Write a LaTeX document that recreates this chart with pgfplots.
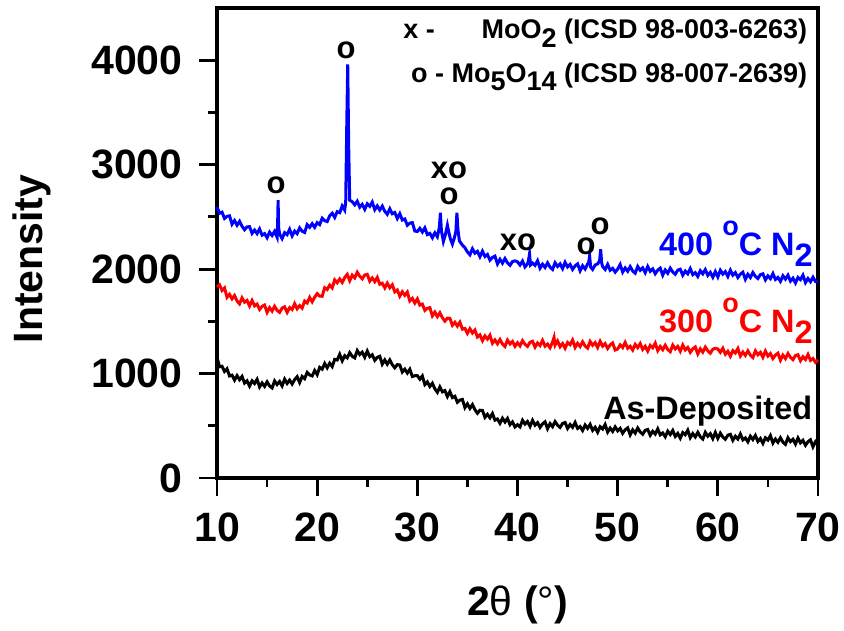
\documentclass[border=0pt]{standalone}
\usepackage{fontspec}
\setmainfont{Liberation Sans}
\usepackage{pgfplots}
\pgfplotsset{compat=1.18}
\definecolor{pblue}{RGB}{0,0,255}
\definecolor{pred}{RGB}{255,0,0}
\newcommand{\lo}[1]{\raisebox{-0.32em}{#1}}
\newcommand{\degsup}{\raisebox{0.62em}{\fontsize{13.5}{14}\selectfont o}}
\begin{document}
\begin{tikzpicture}
\begin{axis}[
  name=ax,
  scale only axis,
  width=300.5pt, height=235pt,
  xmin=10, xmax=70, ymin=0, ymax=4500,
  xtick={10,20,30,40,50,60,70},
  ytick={0,1000,2000,3000,4000},
  minor x tick num=1, minor y tick num=1,
  tick pos=left,
  tick align=outside,
  major tick length=9pt, minor tick length=4.5pt,
  every tick/.style={black, line width=1.4pt},
  axis line style={black, line width=1.6pt},
  /pgf/number format/assume math mode=true,
  /pgf/number format/1000 sep={},
  tick label style={font=\fontsize{20.5}{24}\selectfont\bfseries, inner sep=0pt},
  xticklabel style={anchor=north, yshift=-8pt},
  yticklabel style={anchor=east, xshift=-8pt},
  xlabel={\bfseries 2{\fontseries{m}\selectfont θ} ({\fontseries{m}\selectfont °})},
  ylabel={\bfseries Intensity},
  label style={font=\fontsize{20.5}{24}\selectfont},
  xlabel style={at={(axis description cs:0.5,-0.27)}, anchor=center},
  ylabel style={at={(axis description cs:-0.308,0.466)}, anchor=center},
  clip=false,
]
% As-Deposited
\addplot[black, line width=1.5pt] coordinates {
(10,1155)(10.25,1065)(10.5,1070)(10.75,1020)
(11,1045)(11.25,977)(11.5,985)(11.75,937)
(12,980)(12.25,941)(12.5,972)(12.75,909)
(13,930)(13.25,880)(13.5,930)(13.75,905)
(14,945)(14.25,872)(14.5,910)(14.75,877)
(15,920)(15.25,881)(15.5,862)(15.75,929)
(16,895)(16.25,924)(16.5,882)(16.75,946)
(17,905)(17.25,937)(17.5,900)(17.75,942)
(18,970)(18.25,914)(18.5,972)(18.75,951)
(19,1010)(19.25,986)(19.5,977)(19.75,1029)
(20,990)(20.25,1059)(20.5,1042)(20.75,1096)
(21,1055)(21.25,1099)(21.5,1067)(21.75,1136)
(22,1130)(22.25,1184)(22.5,1122)(22.75,1171)
(23,1150)(23.25,1200)(23.5,1165)(23.75,1150)
(24,1220)(24.25,1182)(24.5,1205)(24.75,1157)
(25,1215)(25.25,1162)(25.5,1180)(25.75,1127)
(26,1155)(26.25,1165)(26.5,1090)(26.75,1130)
(27,1090)(27.25,1130)(27.5,1085)(27.75,1055)
(28,1085)(28.25,1082)(28.5,1015)(28.75,1042)
(29,1005)(29.25,1041)(29.5,972)(29.75,979)
(30,980)(30.25,946)(30.5,977)(30.75,894)
(31,920)(31.25,876)(31.5,907)(31.75,854)
(32,820)(32.25,872)(32.5,825)(32.75,837)
(33,780)(33.25,827)(33.5,770)(33.75,782)
(34,725)(34.25,746)(34.5,752)(34.75,674)
(35,710)(35.25,666)(35.5,702)(35.75,654)
(36,620)(36.25,649)(36.5,647)(36.75,581)
(37,610)(37.25,576)(37.5,617)(37.75,554)
(38,565)(38.25,524)(38.5,572)(38.75,536)
(39,570)(39.25,511)(39.5,537)(39.75,489)
(40,510)(40.25,489)(40.5,552)(40.75,516)
(41,540)(41.25,494)(41.5,552)(41.75,506)
(42,530)(42.25,484)(42.5,518)(42.75,538)
(43,472)(43.25,521)(43.5,491)(43.75,540)
(44,505)(44.25,484)(44.5,522)(44.75,531)
(45,475)(45.25,512)(45.5,485)(45.75,532)
(46,475)(46.25,492)(46.5,455)(46.75,507)
(47,475)(47.25,513)(47.5,456)(47.75,485)
(48,438)(48.25,491)(48.5,469)(48.75,512)
(49,440)(49.25,478)(49.5,446)(49.75,489)
(50,452)(50.25,475)(50.5,428)(50.75,462)
(51,480)(51.25,413)(51.5,461)(51.75,430)
(52,478)(52.25,441)(52.5,419)(52.75,457)
(53,465)(53.25,409)(53.5,447)(53.75,421)
(54,470)(54.25,413)(54.5,431)(54.75,395)
(55,448)(55.25,416)(55.5,455)(55.75,398)
(56,427)(56.25,381)(56.5,435)(56.75,414)
(57,458)(57.25,386)(57.5,425)(57.75,393)
(58,437)(58.25,395)(58.5,373)(58.75,437)
(59,400)(59.25,424)(59.5,377)(59.75,436)
(60,380)(60.25,429)(60.5,392)(60.75,371)
(61,410)(61.25,418)(61.5,361)(61.75,400)
(62,373)(62.25,421)(62.5,365)(62.75,383)
(63,347)(63.25,400)(63.5,368)(63.75,407)
(64,350)(64.25,378)(64.5,331)(64.75,385)
(65,363)(65.25,406)(65.5,335)(65.75,373)
(66,342)(66.25,385)(66.5,343)(66.75,322)
(67,385)(67.25,348)(67.5,371)(67.75,325)
(68,383)(68.25,336)(68.5,360)(68.75,313)
(69,347)(69.25,365)(69.5,298)(69.75,347)
(70,315)
};
% 300 C N2
\addplot[pred, line width=1.5pt] coordinates {
(10,1830)(10.25,1850)(10.5,1795)(10.75,1820)
(11,1730)(11.25,1758)(11.5,1715)(11.75,1747)
(12,1695)(12.25,1667)(12.5,1725)(12.75,1683)
(13,1700)(13.25,1647)(13.5,1700)(13.75,1648)
(14,1665)(14.25,1614)(14.5,1643)(14.75,1656)
(15,1585)(15.25,1631)(15.5,1598)(15.75,1644)
(16,1605)(16.25,1586)(16.5,1627)(16.75,1639)
(17,1585)(17.25,1631)(17.5,1613)(17.75,1669)
(18,1620)(18.25,1651)(18.5,1627)(18.75,1694)
(19,1675)(19.25,1729)(19.5,1687)(19.75,1731)
(20,1765)(20.25,1742)(20.5,1740)(20.75,1822)
(21,1805)(21.25,1847)(21.5,1820)(21.75,1897)
(22,1870)(22.25,1906)(22.5,1872)(22.75,1919)
(23,1950)(23.25,1889)(23.5,1942)(23.75,1916)
(24,1970)(24.25,1931)(24.5,1907)(24.75,1944)
(25,1950)(25.25,1885)(25.5,1915)(25.75,1880)
(26,1920)(26.25,1855)(26.5,1865)(26.75,1820)
(27,1865)(27.25,1822)(27.5,1850)(27.75,1782)
(28,1800)(28.25,1741)(28.5,1783)(28.75,1749)
(29,1780)(29.25,1695)(29.5,1720)(29.75,1675)
(30,1715)(30.25,1655)(30.5,1665)(30.75,1605)
(31,1625)(31.25,1631)(31.5,1552)(31.75,1589)
(32,1545)(32.25,1582)(32.5,1535)(32.75,1502)
(33,1530)(33.25,1529)(33.5,1462)(33.75,1491)
(34,1455)(34.25,1492)(34.5,1425)(34.75,1432)
(35,1385)(35.25,1429)(35.5,1388)(35.75,1416)
(36,1350)(36.25,1370)(36.5,1315)(36.75,1360)
(37,1330)(37.25,1367)(37.5,1290)(37.75,1322)
(38,1285)(38.25,1326)(38.5,1283)(38.75,1259)
(39,1320)(39.25,1284)(39.5,1308)(39.75,1261)
(40,1295)(40.25,1265)(40.5,1315)(40.75,1280)
(41,1260)(41.25,1299)(41.5,1309)(41.75,1253)
(42,1293)(42.25,1268)(42.5,1317)(42.75,1262)
(43,1282)(43.25,1247)(43.5,1302)(43.65,1345)(43.75,1272)
(44,1312)(44.25,1257)(44.5,1287)(44.75,1242)
(45,1297)(45.25,1276)(45.5,1321)(45.75,1250)
(46,1290)(46.25,1259)(46.5,1304)(46.75,1263)
(47,1243)(47.25,1307)(47.5,1271)(47.75,1296)
(48,1250)(48.25,1309)(48.5,1262)(48.75,1286)
(49,1240)(49.25,1274)(49.5,1293)(49.75,1226)
(50,1235)(50.25,1274)(50.5,1249)(50.75,1298)
(51,1242)(51.25,1261)(51.5,1225)(51.75,1279)
(52,1248)(52.25,1287)(52.5,1231)(52.75,1261)
(53,1215)(53.25,1269)(53.5,1247)(53.75,1291)
(54,1220)(54.25,1259)(54.5,1228)(54.75,1271)
(55,1230)(55.25,1209)(55.5,1272)(55.75,1236)
(56,1260)(56.25,1214)(56.5,1273)(56.75,1226)
(57,1250)(57.25,1203)(57.5,1237)(57.75,1255)
(58,1188)(58.25,1236)(58.5,1205)(58.75,1253)
(59,1217)(59.25,1195)(59.5,1233)(59.75,1242)
(60,1235)(60.25,1203)(60.5,1242)(60.75,1185)
(61,1213)(61.25,1166)(61.5,1219)(61.75,1197)
(62,1240)(62.25,1168)(62.5,1206)(62.75,1174)
(63,1217)(63.25,1175)(63.5,1153)(63.75,1217)
(64,1180)(64.25,1203)(64.5,1156)(64.75,1215)
(65,1168)(65.25,1191)(65.5,1144)(65.75,1177)
(66,1195)(66.25,1128)(66.5,1176)(66.75,1144)
(67,1192)(67.25,1155)(67.5,1133)(67.75,1172)
(68,1180)(68.25,1123)(68.5,1161)(68.75,1135)
(69,1183)(69.25,1126)(69.5,1144)(69.75,1107)
(70,1130)
};
% 400 C N2
\addplot[pblue, line width=1.5pt] coordinates {
(10,2595)(10.25,2535)(10.5,2545)(10.75,2485)
(11,2505)(11.25,2510)(11.5,2430)(11.75,2465)
(12,2420)(12.25,2457)(12.5,2410)(12.75,2377)
(13,2405)(13.25,2406)(13.5,2342)(13.75,2374)
(14,2340)(14.25,2385)(14.5,2325)(14.75,2340)
(15,2300)(15.25,2354)(15.5,2322)(15.75,2361)
(16,2305)(16.05,2420)(16.1,2660)(16.15,2400)(16.25,2336)(16.5,2292)(16.75,2349)
(17,2330)(17.25,2381)(17.5,2318)(17.75,2364)
(18,2340)(18.25,2394)(18.5,2363)(18.75,2351)
(19,2425)(19.25,2400)(19.5,2435)(19.75,2400)
(20,2445)(20.25,2426)(20.5,2487)(20.75,2464)
(21,2455)(21.25,2510)(21.5,2535)(21.75,2495)
(22,2550)(22.25,2540)(22.5,2605)(22.75,2565)
(22.85,2640)(22.95,3350)(23.05,3960)(23.15,3150)(23.25,2660)(23.5,2645)(23.75,2615)
(24,2650)(24.25,2593)(24.5,2620)(24.75,2572)
(25,2625)(25.25,2601)(25.5,2642)(25.75,2569)
(26,2605)(26.25,2566)(26.5,2603)(26.75,2554)
(27,2525)(27.25,2577)(27.5,2530)(27.75,2542)
(28,2485)(28.25,2530)(28.5,2470)(28.75,2480)
(29,2420)(29.25,2440)(29.5,2445)(29.75,2365)
(30,2360)(30.25,2390)(30.5,2355)(30.75,2395)
(31,2330)(31.25,2342)(31.5,2300)(31.75,2347)
(32,2310)(32.2,2400)(32.3,2540)(32.4,2370)(32.6,2265)(32.8,2330)(33,2420)(33.15,2350)(33.3,2290)(33.5,2240)(33.7,2300)(33.85,2360)(33.95,2540)(34.05,2380)(34.2,2270)(34.5,2230)(34.75,2205)
(35,2165)(35.25,2137)(35.5,2195)(35.75,2152)
(36,2170)(36.25,2119)(36.5,2172)(36.75,2121)
(37,2140)(37.25,2086)(37.5,2112)(37.75,2124)
(38,2050)(38.25,2094)(38.5,2057)(38.75,2101)
(39,2060)(39.25,2036)(39.5,2072)(39.75,2079)
(40,2070)(40.25,2039)(40.5,2077)(40.75,2021)
(41,2050)(41.1,2085)(41.2,2145)(41.3,2040)(41.5,2058)(41.75,2036)
(42,2080)(42.25,2009)(42.5,2047)(42.75,2016)
(43,2060)(43.25,2019)(43.5,1997)(43.75,2061)
(44,2025)(44.25,2050)(44.5,2005)(44.75,2065)
(45,2020)(45.25,2044)(45.5,1997)(45.75,2031)
(46,2050)(46.25,1984)(46.5,2032)(46.75,2001)
(47,2050)(47.1,2060)(47.2,2125)(47.3,2020)(47.5,1997)(47.75,2039)
(48,2050)(48.2,2080)(48.3,2190)(48.4,2060)(48.5,2025)(48.75,1997)
(49,2045)(49.25,1989)(49.5,2007)(49.75,1971)
(50,2000)(50.25,2044)(50.5,1972)(50.75,2011)
(51,1980)(51.25,2024)(51.5,1982)(51.75,1961)
(52,2025)(52.25,1989)(52.5,2012)(52.75,1966)
(53,2025)(53.25,1979)(53.5,2002)(53.75,1956)
(54,1990)(54.25,2009)(54.5,1942)(54.75,1991)
(55,1960)(55.25,2009)(55.5,1972)(55.75,1951)
(56,1990)(56.25,1999)(56.5,1942)(56.75,1981)
(57,1955)(57.25,2004)(57.5,1947)(57.75,1966)
(58,1930)(58.25,1985)(58.5,1955)(58.75,1995)
(59,1940)(59.25,1969)(59.5,1922)(59.75,1976)
(60,1925)(60.25,1989)(60.5,1952)(60.75,1976)
(61,1930)(61.25,1989)(61.5,1942)(61.75,1966)
(62,1920)(62.25,1952)(62.5,1970)(62.75,1902)
(63,1950)(63.25,1919)(63.5,1967)(63.75,1931)
(64,1910)(64.25,1947)(64.5,1955)(64.75,1897)
(65,1935)(65.25,1909)(65.5,1957)(65.75,1901)
(66,1920)(66.25,1883)(66.5,1936)(66.75,1904)
(67,1942)(67.25,1885)(67.5,1913)(67.75,1867)
(68,1920)(68.25,1899)(68.5,1942)(68.75,1871)
(69,1910)(69.25,1879)(69.5,1922)(69.75,1881)
(70,1880)
};
% peak markers
\begin{scope}[every node/.style={font=\fontsize{15.5}{13}\selectfont\bfseries, inner sep=0pt, anchor=center}]
\node at (15.89,2798) {o};
\node at (22.88,4093) {o};
\node[align=center] at (33.16,2825) {xo\\o};
\node at (40.05,2260) {xo};
\node at (46.84,2222) {o};
\node at (48.24,2413) {o};
\end{scope}
% phase key
\begin{scope}[every node/.style={font=\fontsize{13.5}{15}\selectfont\bfseries, inner sep=0pt}]
\node[anchor=base west] at (28.57,4205) {x -};
\node[anchor=base east] at (68.96,4205) {MoO\lo{2} (ICSD 98-003-6263)};
\node[anchor=base east] at (68.96,3789) {o - Mo\lo{5}O\lo{14} (ICSD 98-007-2639)};
\end{scope}
% sample labels
\begin{scope}[every node/.style={font=\fontsize{16.2}{18}\selectfont\bfseries, inner sep=0pt, anchor=base east}]
\node[text=pblue] at (69.5,2127) {400 \degsup C N\lo{2}};
\node[text=pred] at (69.5,1391) {300 \degsup C N\lo{2}};
\node[text=black] at (69.45,560) {As-Deposited};
\end{scope}
\coordinate (BL) at (axis description cs:-0.3611,-0.3234);
\coordinate (TR) at (axis description cs:1.04326,1.01702);
\end{axis}
\path (BL) rectangle (TR);
\end{tikzpicture}
\end{document}
